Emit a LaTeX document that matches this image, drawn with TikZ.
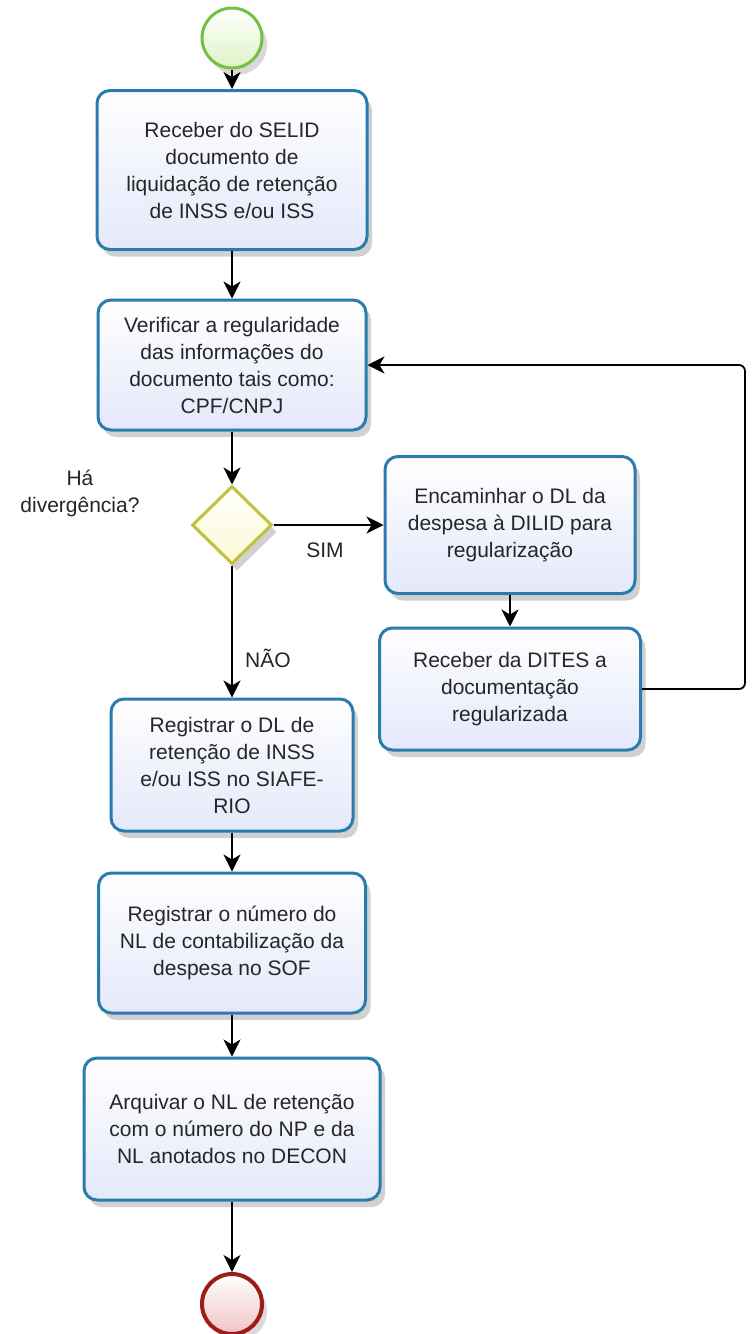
\documentclass[tikz,border=0pt]{standalone}
\usepackage{fontspec}
\setmainfont{Liberation Sans}
\usetikzlibrary{positioning,shapes.geometric,arrows.meta,shadows}
\definecolor{taskline}{HTML}{2A7CAE}
\definecolor{taskfill}{HTML}{E4E8FA}
\definecolor{startline}{HTML}{74C043}
\definecolor{startfill}{HTML}{DDF4C6}
\definecolor{endline}{HTML}{9C1B1B}
\definecolor{endfill}{HTML}{F0C4C4}
\definecolor{gateline}{HTML}{C2C23A}
\definecolor{gatefill}{HTML}{FAFAD2}

\begin{document}
\begin{tikzpicture}[x=1pt, y=-1pt,
    every node/.style={font=\fontsize{21}{27}\selectfont, text=black!85},
    task/.style={rectangle, rounded corners=13pt, draw=taskline, line width=3pt,
        top color=white, bottom color=taskfill, align=center, inner sep=0pt,
        drop shadow={shadow xshift=5pt, shadow yshift=-7pt, opacity=0.18, fill=black}},
    gate/.style={diamond, draw=gateline, line width=3pt, top color=white, bottom color=gatefill,
        minimum width=80pt, minimum height=78pt, inner sep=0pt,
        drop shadow={shadow xshift=5pt, shadow yshift=-7pt, opacity=0.18, fill=black}},
    startev/.style={circle, draw=startline, line width=3pt, top color=white, bottom color=startfill,
        minimum size=60pt, inner sep=0pt,
        drop shadow={shadow xshift=5pt, shadow yshift=-7pt, opacity=0.15, fill=black}},
    endev/.style={circle, draw=endline, line width=4pt, top color=white, bottom color=endfill,
        minimum size=60pt, inner sep=0pt,
        drop shadow={shadow xshift=5pt, shadow yshift=-7pt, opacity=0.15, fill=black}},
    flow/.style={-{Stealth[length=17pt, width=17pt, inset=5pt]}, line width=1.8pt, black}]

    \fill[white] (0,0) rectangle (752,1334);
    \useasboundingbox (0,0) rectangle (752,1334);

    % Eventos e tarefas
    \node[startev] (start) at (232, 38) {};
    \node[task, minimum width=270pt, minimum height=159pt] (receber) at (232, 170)
        {Receber do SELID\\documento de\\liquidação de retenção\\de INSS e/ou ISS};
    \node[task, minimum width=268pt, minimum height=130pt] (verificar) at (232, 365)
        {Verificar a regularidade\\das informações do\\documento tais como:\\CPF/CNPJ};
    \node[gate] (gw) at (232, 525) {};
    \node[task, minimum width=250pt, minimum height=137pt] (encaminhar) at (510, 525)
        {Encaminhar o DL da\\despesa à DILID para\\regularização};
    \node[task, minimum width=261pt, minimum height=122pt] (dites) at (510, 689)
        {Receber da DITES a\\documentação\\regularizada};
    \node[task, minimum width=242pt, minimum height=132pt] (registrardl) at (232, 765)
        {Registrar o DL de\\retenção de INSS\\e/ou ISS no SIAFE-\\RIO};
    \node[task, minimum width=267pt, minimum height=140pt] (registrarnl) at (232, 943)
        {Registrar o número do\\NL de contabilização da\\despesa no SOF};
    \node[task, minimum width=296pt, minimum height=142pt] (arquivar) at (232, 1129)
        {Arquivar o NL de retenção\\com o número do NP e da\\NL anotados no DECON};
    \node[endev] (end) at (232, 1304) {};

    % Rótulos
    \node[align=center] (pergunta) at (80, 493) {Há\\divergência?};
    \node (sim) at (325, 550) {SIM};
    \node (nao) at (268, 658) {NÃO};

    % Ligações
    \coordinate (voltaA) at (745, 689);
    \coordinate (voltaB) at (745, 365);
    \draw[flow] (start) -- (receber);
    \draw[flow] (receber) -- (verificar);
    \draw[flow] (verificar) -- (gw);
    \draw[flow] (gw) -- (encaminhar);
    \draw[flow] (encaminhar) -- (dites);
    \draw[flow] (gw) -- (registrardl);
    \draw[flow] (registrardl) -- (registrarnl);
    \draw[flow] (registrarnl) -- (arquivar);
    \draw[flow] (arquivar) -- (end);
    \draw[flow, rounded corners=6pt] (dites.east) -- (voltaA) -- (voltaB) -- (verificar.east);
\end{tikzpicture}
\end{document}
